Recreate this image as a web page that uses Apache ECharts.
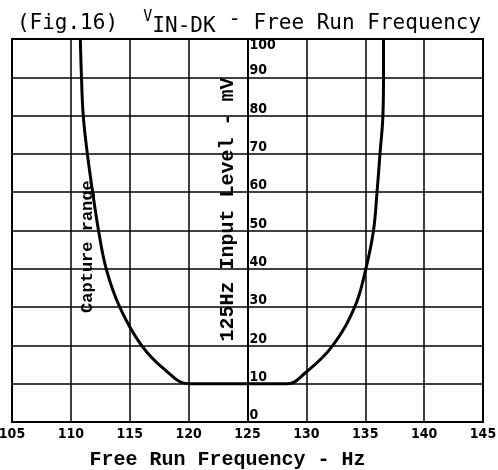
<!DOCTYPE html>
<html>
<head>
<meta charset="utf-8">
<script src="https://cdn.jsdelivr.net/npm/echarts@6/dist/echarts.min.js"></script>
<style>
  html, body { margin: 0; padding: 0; background: #fff; }
  #main { width: 498px; height: 470px; }
</style>
</head>
<body>
<div id="main"></div>
<script>
// 曲线数据
var freq = [110.8, 110.9, 111.05, 111.4, 111.85, 112.35, 113.0, 114.15, 116.0, 118.0, 120.0,
            128.4, 129.9, 132.15, 134.1, 135.05, 135.7, 136.0, 136.25, 136.5, 136.55, 136.55];
var level = [100, 90, 80, 70, 60, 50, 40, 30, 20, 13.6, 10,
             10, 12.8, 19.6, 30, 40, 50, 60, 70, 80, 90, 100];

// 坐标轴
var xTicks = [105, 110, 115, 120, 125, 130, 135, 140, 145];
var yTicks = [0, 10, 20, 30, 40, 50, 60, 70, 80, 90, 100];

// 注释文字
var captureText = 'Capture range';
var capturePos = [111.45, 45.8];

var chart = echarts.init(document.getElementById('main'));

var tickFont = 'DejaVu Sans Condensed, DejaVu Sans, sans-serif';
var monoFont = 'Liberation Mono, monospace';
var titleFont = 'DejaVu Sans Mono, monospace';

var option = {
  backgroundColor: '#fff',
  animation: false,
  title: {
    text: '{a|(Fig.16)  }{v|V}{s|IN-DK}{a| }{d|-}{a| Free Run Frequency}',
    left: 'center',
    top: 4,
    textStyle: {
      fontWeight: 'normal',
      rich: {
        a: { fontFamily: titleFont, fontWeight: 'normal', fontSize: 21, color: '#000' },
        v: { fontFamily: titleFont, fontWeight: 'normal', fontSize: 15, color: '#000', padding: [0, 0, 12, 0] },
        s: { fontFamily: titleFont, fontWeight: 'normal', fontSize: 21, color: '#000', padding: [6, 0, 0, 0] },
        d: { fontFamily: titleFont, fontWeight: 'normal', fontSize: 21, color: '#000', padding: [0, 0, 8, 0] }
      }
    }
  },
  grid: {
    left: 12, right: 15, top: 39, bottom: 48,
    outerBoundsMode: 'none',
    containLabel: false,
    show: true, borderColor: '#000', borderWidth: 2, backgroundColor: 'transparent'
  },
  xAxis: {
    type: 'value',
    min: xTicks[0],
    max: xTicks[xTicks.length - 1],
    interval: 5,
    axisLine: { show: true, lineStyle: { color: '#000', width: 2 } },
    axisTick: { show: false },
    axisLabel: {
      color: '#000', fontFamily: tickFont, fontWeight: 'bold', fontSize: 14, margin: 5
    },
    splitLine: { show: true, lineStyle: { color: '#000', width: 1.5 } },
    name: 'Free Run Frequency - Hz',
    nameLocation: 'middle',
    nameGap: 28,
    nameTextStyle: {
      color: '#000', fontFamily: monoFont, fontWeight: 'bold', fontSize: 20, padding: [0, 40, 0, 0]
    }
  },
  yAxis: {
    type: 'value',
    min: yTicks[0],
    max: yTicks[yTicks.length - 1],
    interval: 10,
    position: 'left',
    offset: -235.5,
    axisLine: { show: true, onZero: false, lineStyle: { color: '#000', width: 2 } },
    axisTick: { show: false },
    axisLabel: {
      inside: true,
      margin: 2,
      formatter: function (v) {
        return v === 100 ? '{t|' + v + '}' : '{n|' + v + '}';
      },
      rich: {
        n: { color: '#000', fontFamily: tickFont, fontWeight: 'bold', fontSize: 14, padding: [0, 0, 13, 0] },
        t: { color: '#000', fontFamily: tickFont, fontWeight: 'bold', fontSize: 14, padding: [13, 0, 0, 0] }
      }
    },
    splitLine: { show: true, lineStyle: { color: '#000', width: 1.5 } },
    name: '125Hz Input Level - mV',
    nameLocation: 'middle',
    nameRotate: 90,
    nameGap: 10,
    nameTextStyle: {
      color: '#000', fontFamily: monoFont, fontWeight: 'bold', fontSize: 20, padding: [0, 0, 0, 42]
    }
  },
  series: [{
    type: 'line',
    data: freq.map(function (f, i) { return [f, level[i]]; }),
    showSymbol: false,
    smooth: 0.4,
    lineStyle: { color: '#000', width: 3 },
    markPoint: {
      symbol: 'circle',
      symbolSize: 0,
      data: [{ coord: capturePos, value: captureText }],
      label: {
        show: true,
        position: 'inside',
        rotate: 90,
        formatter: captureText,
        color: '#000',
        fontFamily: monoFont,
        fontWeight: 'bold',
        fontSize: 17
      }
    }
  }]
};

chart.setOption(option);
</script>
</body>
</html>
